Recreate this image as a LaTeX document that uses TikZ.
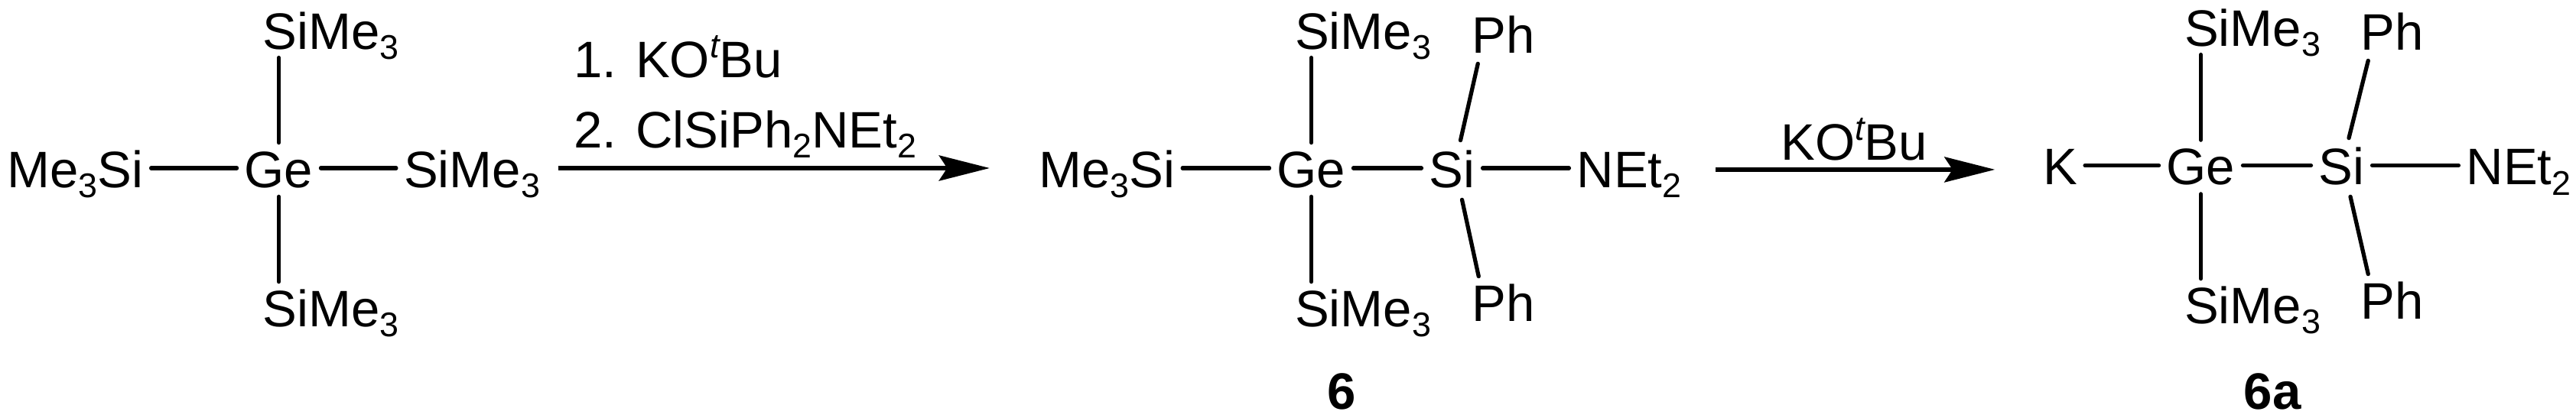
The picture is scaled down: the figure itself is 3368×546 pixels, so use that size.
\documentclass[tikz,border=0pt]{standalone}
\usepackage{fontspec}
\setmainfont{Liberation Sans}
\usetikzlibrary{calc,arrows.meta}
\newcommand{\subs}[1]{\raisebox{-7.8pt}{\fontsize{25.5}{25.5}\selectfont #1}}
\newcommand{\supt}{\raisebox{14.5pt}{\fontsize{25.5}{25.5}\selectfont\itshape t}}
\tikzset{
  atom/.style={anchor=base,inner xsep=5.6pt,inner ysep=3.4pt,text height=29.6pt,text depth=1.14pt,
    font=\fontsize{38.2}{40}\selectfont},
  reagent/.style={anchor=base west,inner sep=0pt,font=\fontsize{38.2}{40}\selectfont},
  compound/.style={anchor=base,inner sep=0pt,font=\fontsize{38.2}{40}\selectfont\bfseries},
  bond/.style={line width=3pt,line cap=round},
  rxn/.style={line width=3.4pt,-{Stealth[length=37.6pt,width=18.8pt,inset=6pt]}}
}

\begin{document}
\begin{tikzpicture}[x=.2mm,y=-.2mm]
\useasboundingbox (0,0) rectangle (3368,546);
% starting material
\node[atom] (ge1) at (364.5,245) {Ge};
\node[atom] (me1) at (98.5,245) {Me\subs{3}Si};
\node[atom] (r1) at (617,245) {SiMe\subs{3}};
\node[atom] (t1) at (432.5,64) {SiMe\subs{3}};
\node[atom] (b1) at (432.5,427) {SiMe\subs{3}};
% compound 6
\node[atom] (ge2) at (1714.5,245) {Ge};
\node[atom] (si2) at (1898.5,245) {Si};
\node[atom] (me2) at (1447,245) {Me\subs{3}Si};
\node[atom] (net2) at (2130,245) {NEt\subs{2}};
\node[atom] (t2) at (1782,64) {SiMe\subs{3}};
\node[atom] (b2) at (1782,427) {SiMe\subs{3}};
\node[atom] (pht2) at (1965.5,69) {Ph};
\node[atom] (phb2) at (1965.5,420) {Ph};
\node[compound] (lab2) at (1754,535) {6};
% compound 6a
\node[atom] (ge3) at (2877.5,241.5) {Ge};
\node[atom] (si3) at (3061.5,241.5) {Si};
\node[atom] (k3) at (2693.5,241.5) {K};
\node[atom] (net3) at (3293,241.5) {NEt\subs{2}};
\node[atom] (t3) at (2945,60) {SiMe\subs{3}};
\node[atom] (b3) at (2945,423) {SiMe\subs{3}};
\node[atom] (pht3) at (3128,65.5) {Ph};
\node[atom] (phb3) at (3128,417) {Ph};
\node[compound] (lab3) at (2971,535) {6a};
% reagents
\node[reagent] (rg1) at (750,101) {1. KO\supt Bu};
\node[reagent] (rg2) at (750,193) {2. ClSiPh\subs{2}NEt\subs{2}};
\node[reagent] (rg3) at (2328,209) {KO\supt Bu};
% bonds
\foreach \a/\b in {me1/ge1,ge1/r1,me2/ge2,ge2/si2,si2/net2,k3/ge3,ge3/si3,si3/net3}
  \draw[bond] (\a.east) -- (\b.west);
\foreach \g/\t/\b in {ge1/t1/b1,ge2/t2/b2,ge3/t3/b3}{
  \draw[bond,shorten >=1.8pt] (\g.north) -- (\g.north |- \t.south);
  \draw[bond,shorten <=2.3pt] (\g.south) -- (\g.south |- \b.north);
}
\draw[bond] ($(si2.north)+(11,-3)$) -- ($(pht2.south west)+(18,6)$);
\draw[bond] ($(si2.south)+(13,8)$) -- ($(phb2.north west)+(19,0)$);
\draw[bond] ($(si3.north)+(9.5,-2.5)$) -- ($(pht3.south west)+(19.5,5.5)$);
\draw[bond] ($(si3.south)+(11.5,7.5)$) -- ($(phb3.north west)+(19.5,0)$);
% reaction arrows
\draw[rxn,shorten <=7.7pt,shorten >=30.7pt] (r1.east) -- (r1.east -| me2.west);
\draw[rxn,shorten <=19.6pt,shorten >=29.9pt] ([yshift=-1.1pt]net2.east) -- ([yshift=-1.1pt]net2.east -| k3.west);
\end{tikzpicture}
\end{document}
